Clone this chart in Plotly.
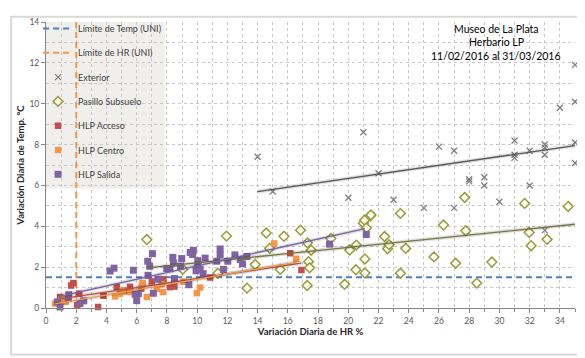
import plotly.graph_objects as go

# ---------------- data ----------------
x_range = [0, 35]
y_range = [0, 14]
limit_temp = 1.5
limit_hr = 2.0

ext_x = [14, 15, 20, 21, 22, 23, 25, 26, 27, 27, 28, 28, 29, 29, 30, 31, 31, 31,
         32, 32, 33, 33, 33, 33, 34, 35, 35, 35, 35]
ext_y = [7.4, 5.7, 5.4, 8.6, 6.6, 5.3, 4.9, 7.9, 7.7, 4.9, 6.3, 6.2, 6.4, 6.0, 5.2,
         8.2, 7.5, 7.35, 7.7, 6.0, 8.0, 7.85, 7.5, 3.8, 9.8, 8.1, 7.1, 11.9, 10.1]

pas_x = [6.67, 9.05, 11.37, 11.94, 13.3, 13.84, 14.57, 14.8, 15.5, 15.74, 16.84,
         17.3, 17.55, 17.37, 17.44, 17.28, 18.85, 19.76, 20.09, 20.53, 20.5, 21.0,
         21.08, 21.2, 21.45, 21.5, 21.1, 21.1, 22.4, 22.6, 22.7, 23.45, 23.45, 23.8,
         25.67, 26.3, 27.1, 27.7, 27.77, 28.5, 29.5, 31.67, 31.97, 32.1, 33.15, 34.55]
pas_y = [3.35, 1.9, 1.7, 3.52, 0.97, 2.13, 3.67, 2.92, 1.89, 3.51, 3.81,
         3.19, 2.83, 2.27, 1.97, 1.1, 3.4, 1.16, 2.84, 3.08, 1.87, 4.15,
         4.3, 3.92, 4.5, 4.56, 2.4, 1.71, 3.5, 2.9, 3.1, 4.63, 1.7, 2.92,
         2.5, 4.06, 2.19, 5.41, 3.78, 1.22, 2.25, 5.12, 3.7, 3.05, 3.36, 4.97]

acc_x = [0.93, 1.66, 1.81, 2.07, 2.2, 3.45, 3.8, 4.68, 5.3, 5.56, 6.3, 7.0, 7.77,
         8.2, 8.5, 10.86, 16.16, 16.9]
acc_y = [0.54, 1.1, 1.22, 0.14, 0.7, 0.05, 0.6, 1.03, 0.82, 1.04, 0.95, 1.3, 1.41,
         1.02, 1.05, 1.49, 2.68, 1.86]

cen_x = [0.6, 0.9, 1.15, 1.3, 4.57, 4.9, 5.08, 5.56, 5.9, 6.34, 6.4, 6.67, 7.33,
         7.66, 7.73, 9.1, 9.98, 10.2, 15.1, 16.56]
cen_y = [0.22, 0.35, 0.46, 0.3, 0.57, 0.7, 0.86, 0.78, 0.7, 1.13, 1.22, 0.54, 0.94,
         1.17, 0.78, 1.29, 0.73, 1.0, 3.16, 2.41]

sal_x = [0.75, 0.93, 1.48, 1.5, 2.25, 2.5, 4.24, 4.5, 5.78, 5.9, 6.0, 6.11, 6.73,
         6.75, 6.86, 7.04, 7.1, 7.4, 7.99, 8.2, 8.39, 8.43, 8.5, 8.9, 8.98, 9.45,
         9.54, 9.7, 9.75, 9.93, 9.98, 10.04, 10.04, 10.2, 10.4, 10.53, 11.3, 11.52,
         11.52, 11.74, 12.03, 12.5, 12.85, 13.0, 13.29, 18.76, 21.19]
sal_y = [0.3, 0.05, 0.46, 0.65, 0.22, 0.35, 1.81, 1.95, 1.85, 0.67, 0.36, 0.7, 2.29,
         1.6, 2.05, 2.66, 0.72, 1.41, 1.93, 1.92, 2.48, 2.2, 1.44, 2.05, 2.42, 1.14,
         2.72, 2.62, 2.82, 1.82, 1.92, 2.32, 2.05, 1.89, 1.68, 2.44, 2.29, 2.89,
         2.6, 1.89, 2.29, 2.6, 2.37, 2.16, 2.52, 3.13, 3.6]

# linear trend lines (end points)
ext_trend_x = [14, 35]
ext_trend_y = [5.7, 7.95]
pas_trend_x = [6.67, 35]
pas_trend_y = [1.96, 4.1]
acc_trend_x = [0.93, 16.9]
acc_trend_y = [0.45, 2.2]
cen_trend_x = [0.6, 16.6]
cen_trend_y = [0.2, 2.25]
sal_trend_x = [0.75, 21.1]
sal_trend_y = [0.55, 3.88]

title_lines = ["Museo de La Plata", "Herbario LP", "11/02/2016 al 31/03/2016"]

# ---------------- figure ----------------
# the page body has an 8px margin, so the figure is drawn 8px right/down
FONT = "Lato"
C_BLUE = "#4F81BD"
C_ORANGE = "#F79646"
C_GRAY = "#7F7F7F"
C_OLIVE = "#9A9A3A"
C_RED = "#C0504D"
C_PURPLE = "#8064A2"

fig = go.Figure()

fig.add_trace(go.Scatter(x=x_range, y=[limit_temp, limit_temp], mode="lines",
                         name="Límite de Temp (UNI)", legendgroup="g1",
                         line=dict(color=C_BLUE, width=2, dash="6px,4px")))
fig.add_trace(go.Scatter(x=[limit_hr, limit_hr], y=y_range, mode="lines",
                         name="Límite de HR (UNI)", legendgroup="g2",
                         line=dict(color=C_ORANGE, width=2, dash="6px,4px")))
fig.add_trace(go.Scatter(x=ext_x, y=ext_y, mode="markers", name="Exterior",
                         legendgroup="g3", cliponaxis=False,
                         marker=dict(symbol="x-thin", size=6, color=C_GRAY,
                                     line=dict(color=C_GRAY, width=1.3))))
fig.add_trace(go.Scatter(x=pas_x, y=pas_y, mode="markers", name="Pasillo Subsuelo",
                         legendgroup="g4", cliponaxis=False,
                         marker=dict(symbol="diamond", size=7.5, color="rgba(255,255,245,0.85)",
                                     line=dict(color=C_OLIVE, width=1.5))))
fig.add_trace(go.Scatter(x=acc_x, y=acc_y, mode="markers", name="HLP Acceso",
                         legendgroup="g5", cliponaxis=False,
                         marker=dict(symbol="square", size=6.5, color=C_RED)))
fig.add_trace(go.Scatter(x=cen_x, y=cen_y, mode="markers", name="HLP Centro",
                         legendgroup="g6", cliponaxis=False,
                         marker=dict(symbol="square", size=6.5, color=C_ORANGE)))
fig.add_trace(go.Scatter(x=sal_x, y=sal_y, mode="markers", name="HLP Salida",
                         legendgroup="g7", cliponaxis=False,
                         marker=dict(symbol="square", size=7, color=C_PURPLE)))

trends = [
    (ext_trend_x, ext_trend_y, "#595959"),
    (pas_trend_x, pas_trend_y, "#77773F"),
    (acc_trend_x, acc_trend_y, C_RED),
    (cen_trend_x, cen_trend_y, C_ORANGE),
    (sal_trend_x, sal_trend_y, "#7A64A8"),
]
for tx, ty, col in trends:
    fig.add_trace(go.Scatter(x=tx, y=ty, mode="lines", showlegend=False, hoverinfo="skip",
                             line=dict(color="rgba(0,0,0,0.12)", width=4)))
    fig.add_trace(go.Scatter(x=tx, y=ty, mode="lines", showlegend=False, hoverinfo="skip",
                             line=dict(color=col, width=1.3)))

axis_common = dict(
    showline=True, linecolor="#868686", linewidth=1, mirror=False,
    showgrid=True, gridcolor="#C8C8C8", gridwidth=1, griddash="dot",
    ticks="outside", ticklen=4, tickcolor="#868686",
    tickfont=dict(family=FONT, size=8.5, color="#595959"),
    zeroline=False, automargin=False,
    minor=dict(dtick=1, showgrid=True, gridcolor="#C8C8C8", griddash="dot",
               ticks="outside", ticklen=3, tickcolor="#868686"),
)

fig.update_xaxes(range=x_range, dtick=2, tick0=0, ticklabelstandoff=1,
                 title=dict(text="<b>Variación Diaria de HR %</b>", standoff=3,
                            font=dict(family=FONT, size=9.5, color="#262626")),
                 **axis_common)
fig.update_yaxes(range=y_range, dtick=2, tick0=0,
                 title=dict(text="<b>Variación Diaria de Temp. °C</b>", standoff=3,
                            font=dict(family=FONT, size=9.5, color="#262626")),
                 **axis_common)
fig.update_yaxes(minor=dict(ticks=""))

# title lines: page y ~22, 36, 50 px (plot area spans page y 14..308)
title_y = [0.976, 0.929, 0.881]
annotations = [
    dict(xref="paper", yref="paper", x=0.851, y=ty, xanchor="center", yanchor="middle",
         text=t, showarrow=False, font=dict(family=FONT, size=10.5, color="#000000"))
    for t, ty in zip(title_lines, title_y)
]

fig.update_layout(
    width=577, height=350,
    margin=dict(l=38, r=10, t=6, b=50),
    paper_bgcolor="white", plot_bgcolor="white",
    font=dict(family=FONT, size=9, color="#404040"),
    legend=dict(x=-0.015, y=1.028, xanchor="left", yanchor="top",
                bgcolor="rgba(0,0,0,0)", traceorder="grouped", tracegroupgap=5.3,
                font=dict(family=FONT, size=9, color="#404040"), itemwidth=30),
    shapes=[
        dict(type="rect", xref="paper", yref="paper", x0=0, x1=0.2245, y0=0.418, y1=1,
             fillcolor="#F1EFEB", line=dict(width=0), layer="below"),
        dict(type="rect", xref="paper", yref="paper", x0=-0.066, x1=1.1, y0=-0.163, y1=1.018,
             fillcolor="rgba(0,0,0,0)", line=dict(color="#D9D9D9", width=2), layer="below"),
    ],
    annotations=annotations,
)

fig.write_html("out.html")
